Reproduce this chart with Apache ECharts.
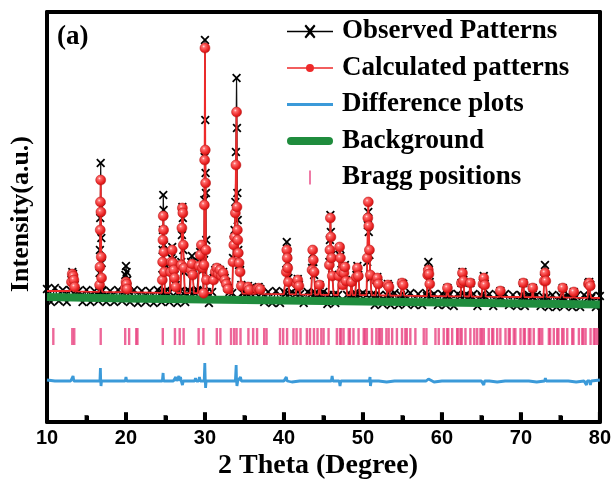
<!DOCTYPE html>
<html><head><meta charset="utf-8">
<script src="https://cdn.jsdelivr.net/npm/echarts@6/dist/echarts.min.js"></script>
<style>html,body{margin:0;padding:0;background:#fff}#c{width:614px;height:481px}</style>
</head><body><div id="c"></div>
<script>
// ---------- DATA ----------
const xTicks = [10, 20, 30, 40, 50, 60, 70, 80];
const xMinorTicks = [15, 25, 35, 45, 55, 65, 75];

// observed baseline (noisy), 2theta from 10 to 80, step 0.5
const obsBaseStart = 10, obsBaseStep = 0.5;
const obsBaseline = [
 3300,2975,3325,3000,3275,2975,3300,3000,3250,2975,3275,2975,3250,3000,3275,2975,3250,2975,3275,3000,
 3250,2975,3275,2950,3250,2975,3250,2950,3275,2975,3250,2975,3275,2950,3250,2975,3250,2950,3275,2975,
 3250,2950,3225,2975,3250,2950,3225,2950,3250,2975,3225,2950,3250,2950,3225,2975,3225,2950,3250,2950,
 3225,2950,3225,2925,3200,2950,3225,2925,3200,2950,3225,2925,3200,2950,3200,2925,3225,2925,3200,2950,
 3200,2925,3200,2900,3200,2925,3175,2900,3200,2900,3175,2925,3200,2900,3175,2900,3200,2925,3175,2900,
 3175,2900,3175,2875,3175,2900,3150,2875,3175,2875,3150,2900,3175,2875,3150,2875,3175,2900,3150,2875,
 3150,2875,3150,2850,3150,2875,3125,2850,3150,2850,3125,2875,3150,2850,3125,2850,3150,2850,3125,2850,
 3125
];

// observed peaks [2theta, intensity]
const obsPeaks = [
 [[12.95,3275],[13.1,3525],[13.2,3725],[13.3,3675],[13.4,3575],[13.5,3400],[13.65,3250]],
 [[16.62,3250],[16.66,3700],[16.7,4275],[16.74,5075],[16.8,6450],[16.84,5350],[16.88,4575],[16.92,3950],[16.98,3250]],
 [[19.85,3250],[19.92,3650],[20.0,3875],[20.08,3725],[20.16,3525],[20.3,3250]],
 [[24.55,3225],[24.6,3650],[24.64,4275],[24.68,4775],[24.72,5650],[24.76,5275],[24.8,4400],[24.85,3825],[24.92,3225]],
 [[25.55,3225],[25.65,3775],[25.75,4075],[25.85,4350],[25.95,4025],[26.05,3900],[26.15,3650],[26.3,3400],[26.45,3225]],
 [[26.9,3250],[27.0,3975],[27.08,4650],[27.14,5350],[27.2,5075],[27.26,4275],[27.34,3725],[27.45,3225]],
 [[28.1,3225],[28.25,3975],[28.35,4125],[28.45,3825],[28.6,3225]],
 [[29.1,3250],[29.25,3975],[29.4,4225],[29.55,4075],[29.7,3775],[29.82,3250],[29.88,4025],[29.92,5525],[29.96,6600],[30.0,9525],[30.04,7525],[30.08,6200],[30.12,5700],[30.16,4525],[30.22,3225]],
 [[30.9,3225],[31.1,3575],[31.3,3775],[31.5,3825],[31.7,3725],[31.9,3775],[32.1,3650],[32.3,3725],[32.5,3575],[32.7,3475],[32.9,3325],[33.1,3225]],
 [[33.45,3200],[33.55,4075],[33.65,4525],[33.75,4775],[33.85,5475],[33.92,6725],[34.0,8575],[34.05,7325],[34.1,5700],[34.15,5025],[34.22,4275],[34.32,3900],[34.45,3775],[34.6,3400],[34.75,3200]],
 [[35.3,3200],[35.45,3375],[35.6,3300],[35.75,3200]],
 [[36.4,3200],[36.6,3325],[36.8,3350],[37.0,3300],[37.2,3200]],
 [[40.2,3175],[40.3,3775],[40.36,4475],[40.42,4225],[40.48,3975],[40.56,3575],[40.7,3175]],
 [[41.5,3175],[41.62,3450],[41.75,3550],[41.9,3400],[42.05,3175]],
 [[43.45,3175],[43.56,3825],[43.64,4175],[43.72,3975],[43.82,3650],[43.95,3175]],
 [[44.35,3175],[44.5,3400],[44.65,3175]],
 [[45.65,3150],[45.75,3975],[45.82,4525],[45.88,5150],[45.94,4725],[46.02,4150],[46.12,3650],[46.3,3150]],
 [[46.85,3150],[46.95,3650],[47.05,4325],[47.15,4125],[47.28,3775],[47.45,3400],[47.6,3775],[47.72,3900],[47.85,3525],[48.0,3150]],
 [[48.4,3150],[48.55,3500],[48.7,3150]],
 [[49.05,3150],[49.18,3650],[49.3,3875],[49.42,3650],[49.6,3150]],
 [[50.45,3150],[50.55,3975],[50.62,4900],[50.68,5225],[50.74,4725],[50.82,4150],[50.93,3575],[51.1,3150]],
 [[51.6,3150],[51.72,3525],[51.82,3600],[51.95,3450],[52.1,3150]],
 [[53.0,3150],[53.15,3425],[53.3,3375],[53.45,3150]],
 [[54.8,3150],[54.95,3450],[55.1,3425],[55.25,3150]],
 [[58.1,3125],[58.2,3725],[58.28,3975],[58.36,3775],[58.46,3475],[58.6,3125]],
 [[60.55,3125],[60.7,3325],[60.85,3125]],
 [[62.35,3125],[62.47,3450],[62.6,3725],[62.72,3525],[62.85,3125]],
 [[63.45,3125],[63.6,3450],[63.75,3125]],
 [[65.1,3100],[65.2,3450],[65.3,3625],[65.42,3425],[65.55,3100]],
 [[67.3,3100],[67.4,3250],[67.5,3100]],
 [[70.15,3100],[70.3,3450],[70.45,3100]],
 [[71.4,3100],[71.5,3325],[71.6,3100]],
 [[72.85,3100],[72.95,3575],[73.05,3900],[73.15,3575],[73.3,3100]],
 [[75.2,3075],[75.3,3325],[75.4,3075]],
 [[76.6,3075],[76.7,3225],[76.8,3075]],
 [[78.45,3075],[78.55,3450],[78.65,3475],[78.78,3400],[78.9,3075]]
];

// calculated baseline and peaks
const calcBaseline = [[10,3250],[15,3235],[20,3220],[25,3205],[30,3195],[35,3185],[40,3170],[45,3155],[50,3145],[55,3132],[60,3120],[65,3110],[70,3100],[75,3090],[80,3075]];
const calcPeaks = [
 [[12.95,3250],[13.1,3475],[13.2,3675],[13.3,3625],[13.4,3525],[13.5,3350],[13.65,3240]],
 [[16.62,3230],[16.66,3400],[16.7,3850],[16.74,4775],[16.77,5475],[16.8,6025],[16.83,5225],[16.87,4100],[16.91,3575],[16.98,3230]],
 [[19.85,3220],[19.92,3325],[20.0,3475],[20.08,3425],[20.16,3300],[20.3,3220]],
 [[24.55,3205],[24.6,3525],[24.64,3975],[24.68,4525],[24.72,5125],[24.76,4775],[24.8,4225],[24.85,3725],[24.92,3205]],
 [[25.55,3205],[25.65,3725],[25.75,3975],[25.85,4275],[25.95,3950],[26.05,3775],[26.15,3575],[26.3,3350],[26.45,3200]],
 [[26.9,3200],[27.0,3900],[27.08,4825],[27.14,5325],[27.2,5200],[27.26,4400],[27.34,3825],[27.45,3200]],
 [[28.1,3195],[28.25,3775],[28.35,3925],[28.45,3650],[28.6,3195]],
 [[29.1,3195],[29.25,3875],[29.4,4150],[29.55,4400],[29.7,3825],[29.82,3195],[29.88,3900],[29.92,5400],[29.96,6525],[30.0,9325],[30.04,6775],[30.08,5950],[30.12,4275],[30.18,3525],[30.22,3195]],
 [[30.9,3195],[31.1,3525],[31.3,3725],[31.5,3825],[31.7,3675],[31.9,3775],[32.1,3625],[32.3,3700],[32.5,3525],[32.7,3425],[32.9,3300],[33.1,3190]],
 [[33.45,3190],[33.55,3975],[33.65,4400],[33.75,4600],[33.85,5200],[33.92,6400],[34.0,7725],[34.05,5350],[34.1,4775],[34.15,4525],[34.22,4200],[34.32,3950],[34.45,3725],[34.6,3375],[34.75,3185]],
 [[35.3,3185],[35.45,3350],[35.6,3280],[35.75,3185]],
 [[36.4,3180],[36.6,3300],[36.8,3320],[37.0,3290],[37.2,3180]],
 [[40.2,3170],[40.3,3725],[40.36,4275],[40.42,4075],[40.48,3825],[40.56,3475],[40.7,3170]],
 [[41.5,3165],[41.62,3425],[41.75,3525],[41.9,3375],[42.05,3165]],
 [[43.45,3160],[43.56,3775],[43.64,4275],[43.72,4025],[43.82,3725],[43.95,3160]],
 [[44.35,3160],[44.5,3400],[44.65,3160]],
 [[45.65,3155],[45.75,3900],[45.82,4275],[45.88,5075],[45.94,4600],[46.02,4075],[46.12,3625],[46.3,3155]],
 [[46.85,3150],[46.95,3625],[47.05,4350],[47.15,4075],[47.28,3725],[47.45,3400],[47.6,3700],[47.72,3850],[47.85,3500],[48.0,3150]],
 [[48.4,3148],[48.55,3475],[48.7,3148]],
 [[49.05,3145],[49.18,3600],[49.3,3825],[49.42,3625],[49.6,3145]],
 [[50.45,3145],[50.55,4075],[50.62,5075],[50.68,5475],[50.74,4875],[50.82,4275],[50.93,3650],[51.1,3145]],
 [[51.6,3140],[51.72,3500],[51.82,3575],[51.95,3425],[52.1,3140]],
 [[53.0,3138],[53.15,3400],[53.3,3350],[53.45,3138]],
 [[54.8,3132],[54.95,3450],[55.1,3400],[55.25,3132]],
 [[58.1,3122],[58.2,3650],[58.28,3775],[58.36,3675],[58.46,3425],[58.6,3122]],
 [[60.55,3118],[60.7,3325],[60.85,3118]],
 [[62.35,3115],[62.47,3450],[62.6,3700],[62.72,3500],[62.85,3115]],
 [[63.45,3112],[63.6,3450],[63.75,3112]],
 [[65.1,3110],[65.2,3425],[65.3,3575],[65.42,3400],[65.55,3110]],
 [[67.3,3105],[67.4,3250],[67.5,3105]],
 [[70.15,3100],[70.3,3450],[70.45,3100]],
 [[71.4,3098],[71.5,3325],[71.6,3098]],
 [[72.85,3095],[72.95,3500],[73.05,3700],[73.15,3500],[73.3,3095]],
 [[75.2,3090],[75.3,3325],[75.4,3090]],
 [[76.6,3085],[76.7,3225],[76.8,3085]],
 [[78.45,3078],[78.55,3425],[78.65,3450],[78.78,3375],[78.9,3078]]
];

// difference curve (baseline step 1 deg) and its spikes
const diffBaseStart = 10, diffBaseStep = 1;
const diffBaseline = [
 1025,1000,1000,1000,1000,1000,1000,1000,1000,1000,
 1000,1000,1000,1000,1000,1000,1000,1000,1000,1000,
 1000,1000,1000,1000,1000,1000,1000,1000,1000,1000,
 1000,975,1000,1000,1000,1000,1000,975,1000,1000,
 1000,1000,1000,975,1000,1000,1000,1000,1000,975,
 1000,1000,1000,1000,1000,1000,1000,975,1000,1000,
 1000,1000,975,1000,1000,1000,1000,975,1000,1000,
 1025
];
const diffSpikes = [
 [[13.2,1000],[13.3,1125],[13.4,1000]],
 [[16.7,1000],[16.76,1325],[16.8,1000],[16.84,875],[16.9,1000]],
 [[19.9,1000],[20.0,1100],[20.1,1000]],
 [[24.6,1000],[24.7,1200],[24.76,1000],[24.8,950],[24.9,1000]],
 [[26.2,1000],[26.3,1100],[26.4,1000]],
 [[26.6,1000],[26.7,1125],[26.8,1000],[26.9,1100],[27.0,1000],[27.15,900],[27.25,1000]],
 [[28.7,1000],[28.8,1075],[28.9,1000]],
 [[29.2,1000],[29.3,1100],[29.4,1000]],
 [[29.9,1000],[29.98,1450],[30.04,1000],[30.08,825],[30.15,1000]],
 [[33.85,1000],[33.95,1400],[34.0,1000],[34.05,875],[34.15,1000]],
 [[34.4,1000],[34.5,1100],[34.6,1000]],
 [[40.2,1000],[40.3,1100],[40.4,1000]],
 [[46.0,1000],[46.1,1125],[46.2,1000]],
 [[47.0,1000],[47.1,875],[47.2,1000]],
 [[50.8,1000],[50.9,1100],[50.95,875],[51.05,1000]],
 [[58.2,1000],[58.3,1050],[58.4,1000]],
 [[65.2,1000],[65.3,900],[65.4,1000]],
 [[73.0,1000],[73.1,1075],[73.2,1000]],
 [[78.2,1000],[78.3,900],[78.4,1000]],
 [[78.7,1000],[78.8,900],[78.9,1000]]
];

// refined background
const backgroundCurve = [[10,3100],[20,3065],[30,3035],[40,3010],[50,2985],[60,2960],[70,2935],[80,2910]];

// Bragg reflection positions (2theta) and the level of the tick row
const braggLevel = 2112;
const braggPositions = [10.8,13.2,13.45,16.8,19.9,20.4,21.3,21.45,24.66,26.2,26.8,27.3,29.2,29.8,31.5,31.95,33.3,33.7,34.0,34.5,
 35.5,36.1,36.6,37.5,37.8,39.5,39.9,40.4,41.2,41.6,42.1,42.9,43.3,43.8,44.25,44.73,45.02,45.65,46.7,47.1,47.25,47.55,48.2,48.35,
 48.8,49.45,50.1,50.25,50.5,51.15,51.7,52.0,52.15,52.4,52.97,53.26,53.7,54.3,54.95,55.37,55.55,56.0,56.64,57.7,58.04,59.18,59.6,
 60.23,60.66,60.8,61.3,61.93,62.0,62.34,62.5,62.98,63.6,64.1,64.46,64.88,65.05,65.3,65.93,66.36,66.5,67.0,67.4,68.05,68.47,68.6,
 69.1,69.3,69.95,70.37,70.5,71.0,71.2,71.63,72.27,72.4,72.7,73.54,73.7,74.17,74.6,74.75,75.23,75.4,75.87,76.5,76.65,77.34,77.77,
 77.9,78.19,78.82,79.24,79.4,79.67];

const seriesNames = ['Observed Patterns','Calculated patterns','Difference plots','Background','Bragg positions'];

// ---------- BUILD ----------
const Y_MIN = -25, Y_MAX = 10225;
function buildProfile(basePts, groups) {
  const spans = groups.map(g => [g[0][0], g[g.length - 1][0]]);
  const pts = [];
  basePts.forEach(p => {
    if (!spans.some(s => p[0] >= s[0] && p[0] <= s[1])) pts.push({ value: p, base: true });
  });
  groups.forEach(g => g.forEach((p, i) => pts.push({ value: p, base: i === 0 || i === g.length - 1 })));
  pts.sort((a, b) => a.value[0] - b.value[0]);
  return pts;
}
const obsBasePts = obsBaseline.map((v, i) => [obsBaseStart + i * obsBaseStep, v]);
const diffBasePts = diffBaseline.map((v, i) => [diffBaseStart + i * diffBaseStep, v]);

const obsData = buildProfile(obsBasePts, obsPeaks).map(p => p.value);
const calcData = buildProfile(calcBaseline, calcPeaks).map(p => p.base ? { value: p.value, symbol: 'none' } : { value: p.value });
const diffData = buildProfile(diffBasePts, diffSpikes).map(p => p.value);
const braggData = braggPositions.map(x => [x, braggLevel]);

const X_PATH = 'path://M0,1.4L1.4,0L5,3.6L8.6,0L10,1.4L6.4,5L10,8.6L8.6,10L5,6.4L1.4,10L0,8.6L3.6,5Z';
const SERIF = '"Liberation Serif","Times New Roman",serif';
const frameLine = { show: true, onZero: false, lineStyle: { color: '#000', width: 4 } };

const chart = echarts.init(document.getElementById('c'));
chart.setOption({
  animation: false,
  backgroundColor: '#fff',
  grid: { left: 47, right: 14, top: 12, bottom: 59 },
  xAxis: [
    {
      type: 'value', position: 'bottom', min: xTicks[0], max: xTicks[xTicks.length - 1], interval: 10,
      axisLine: frameLine,
      axisTick: { show: true, inside: true, length: 9, lineStyle: { color: '#000', width: 4 } },
      minorTick: { show: true, splitNumber: 2, length: 6, lineStyle: { color: '#000', width: 4 } },
      splitLine: { show: false },
      axisLabel: { margin: 6, color: '#000', fontSize: 20, fontWeight: 'bold', fontFamily: 'Liberation Sans' }
    },
    {
      type: 'value', position: 'top', min: xTicks[0], max: xTicks[xTicks.length - 1], interval: 10,
      axisLine: frameLine, axisTick: { show: false }, axisLabel: { show: false }, splitLine: { show: false }
    }
  ],
  yAxis: [
    { type: 'value', position: 'left', min: Y_MIN, max: Y_MAX, axisLine: frameLine, axisTick: { show: false }, axisLabel: { show: false }, splitLine: { show: false } },
    { type: 'value', position: 'right', min: Y_MIN, max: Y_MAX, axisLine: frameLine, axisTick: { show: false }, axisLabel: { show: false }, splitLine: { show: false } }
  ],
  legend: {
    orient: 'vertical', left: 282, top: 13, itemWidth: 46, itemHeight: 14, itemGap: 9.5, selectedMode: false,
    textStyle: { fontFamily: SERIF, fontWeight: 'bold', fontSize: 27, color: '#000', lineHeight: 25, padding: [0, 0, 0, 4] },
    data: [
      { name: seriesNames[0], icon: 'path://M0,6.3H46V7.7H0Z M17.5,1.5L19,0L23,4.6L27,0L28.5,1.5L24.4,7L28.5,12.5L27,14L23,9.4L19,14L17.5,12.5L21.6,7Z', itemStyle: { color: '#000', borderWidth: 0 } },
      { name: seriesNames[1], icon: 'path://M0,6.2H46V7.8H0Z M23,3A4,4 0 1,1 22.99,3Z', itemStyle: { color: '#ee2a2a', borderWidth: 0 } },
      { name: seriesNames[2], icon: 'path://M0,0H46V3H0Z', itemStyle: { color: '#3b9ad9', borderWidth: 0 } },
      { name: seriesNames[3], icon: 'path://M4,0H42A4,4 0 0,1 42,8H4A4,4 0 0,1 4,0Z', itemStyle: { color: '#1f8c3d', borderWidth: 0 } },
      { name: seriesNames[4], icon: 'path://M0,0H2V16H0Z', itemStyle: { color: '#e8417f', borderWidth: 0 } }
    ]
  },
  graphic: [
    { type: 'text', left: 57, top: 24, style: { text: '(a)', font: 'bold 27px ' + SERIF, fill: '#000' } },
    { type: 'text', x: 21, y: 214, rotation: Math.PI / 2, style: { text: 'Intensity(a.u.)', font: 'bold 26px ' + SERIF, fill: '#000', align: 'center', verticalAlign: 'middle' } },
    { type: 'text', x: 318, y: 466, style: { text: '2 Theta (Degree)', font: 'bold 28px ' + SERIF, fill: '#000', align: 'center', verticalAlign: 'middle' } }
  ],
  series: [
    {
      name: seriesNames[0], type: 'line', data: obsData, z: 2,
      symbol: X_PATH, symbolSize: 9, showSymbol: true, showAllSymbol: true,
      itemStyle: { color: '#000' }, lineStyle: { color: '#111', width: 1.2 },
      emphasis: { disabled: true }
    },
    {
      name: seriesNames[1], type: 'line', data: calcData, z: 4,
      symbol: 'circle', symbolSize: 10, showSymbol: true, showAllSymbol: true,
      itemStyle: {
        color: { type: 'radial', x: 0.38, y: 0.35, r: 0.7, colorStops: [
          { offset: 0, color: '#ffe0e0' }, { offset: 0.2, color: '#ff6a6a' }, { offset: 0.7, color: '#e82020' }, { offset: 1, color: '#c01010' } ] },
        borderColor: '#b81414', borderWidth: 0.5
      },
      lineStyle: { color: '#ee2a2a', width: 1.8 },
      emphasis: { disabled: true }
    },
    {
      name: seriesNames[2], type: 'line', data: diffData, z: 3, symbol: 'none',
      itemStyle: { color: '#3b9ad9' }, lineStyle: { color: '#3b9ad9', width: 2.8 },
      emphasis: { disabled: true }
    },
    {
      name: seriesNames[3], type: 'line', data: backgroundCurve, z: 3, symbol: 'none',
      itemStyle: { color: '#1f8c3d' }, lineStyle: { color: '#1f8c3d', width: 8 },
      emphasis: { disabled: true }
    },
    {
      name: seriesNames[4], type: 'scatter', data: braggData, z: 2,
      symbol: 'rect', symbolSize: [2.4, 17], itemStyle: { color: '#e8417f' },
      emphasis: { disabled: true }
    },
    // inward tick bumps on the bottom axis, placed by the x scale at the axis minimum
    {
      name: 'majorTicks', type: 'scatter', data: xTicks.map(x => [x, Y_MIN]), z: 10, clip: false, silent: true,
      symbol: 'rect', symbolSize: [4, 10], symbolOffset: [0, -5], itemStyle: { color: '#000' },
      emphasis: { disabled: true }
    },
    {
      name: 'minorTicks', type: 'scatter', data: xMinorTicks.map(x => [x, Y_MIN]), z: 10, clip: false, silent: true,
      symbol: 'rect', symbolSize: [4, 7], symbolOffset: [0, -3.5], itemStyle: { color: '#000' },
      emphasis: { disabled: true }
    }
  ]
});
</script>
</body></html>
